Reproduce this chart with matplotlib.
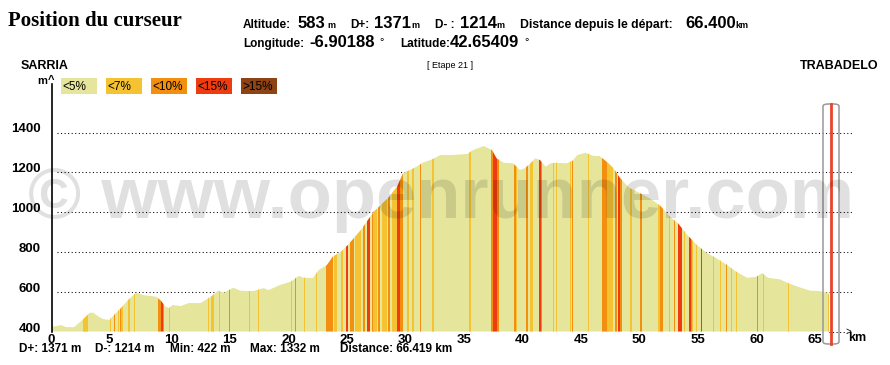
import matplotlib
matplotlib.use('Agg')
import matplotlib.pyplot as plt
from matplotlib.patches import Polygon, Rectangle, FancyBboxPatch
from matplotlib.transforms import ScaledTranslation

plt.rcParams['font.family'] = ['Liberation Sans', 'DejaVu Sans']

# elevation profile (km, m)
distance_km = [0.0, 0.8, 1.2, 1.9, 2.6, 3.2, 3.5, 4.0, 4.4, 4.9, 5.3, 5.9, 6.5, 7.2, 7.8,
               8.9, 9.3, 9.7, 10.0, 10.3, 11.0, 11.7, 12.7, 13.6, 14.2, 14.7, 15.5, 16.1,
               17.2, 18.1, 18.5, 19.5, 20.4, 21.1, 21.5, 22.3, 22.8, 23.5, 24.0, 24.7,
               25.3, 26.4, 27.5, 28.7, 29.5, 30.0, 30.9, 31.7, 32.5, 33.2, 34.2, 35.5,
               36.0, 36.9, 37.6, 38.0, 38.6, 39.4, 40.0, 40.4, 40.9, 41.3, 41.7, 42.2,
               42.6, 43.0, 44.0, 44.5, 44.9, 45.6, 46.3, 46.8, 47.4, 48.0, 48.5, 49.1,
               49.4, 50.3, 51.1, 52.0, 52.8, 53.5, 54.3, 55.1, 56.0, 56.8, 57.7, 58.5,
               59.4, 60.2, 60.7, 61.2, 62.2, 63.1, 63.9, 64.8, 65.6, 66.3, 66.419]
elevation_m = [424, 432, 422, 422, 458, 493, 495, 474, 462, 458, 483, 518, 558, 595, 583,
               575, 555, 525, 518, 533, 528, 543, 543, 575, 605, 595, 620, 605,
               603, 618, 608, 634, 650, 680, 670, 669, 709, 734, 776, 801,
               835, 910, 1002, 1069, 1128, 1195, 1220, 1248, 1265, 1287, 1287, 1292,
               1312, 1332, 1312, 1270, 1248, 1245, 1212, 1220, 1245, 1270, 1262, 1228,
               1245, 1248, 1245, 1258, 1287, 1298, 1282, 1282, 1253, 1220, 1175, 1136,
               1120, 1094, 1069, 1031, 977, 944, 885, 835, 793, 768, 734, 700,
               670, 675, 693, 670, 662, 639, 622, 605, 603, 595, 583]

# slope stripes: start km, end km, class (1: <7%, 2: <10%, 3: <15%)
stripe_start = [2.65, 4.95, 5.29, 5.63, 5.80, 5.93, 6.48, 7.00, 9.04, 9.30, 9.47, 9.98,
                13.31, 13.57, 14.25, 15.10, 16.81, 17.58, 20.39, 20.73, 21.50, 22.53,
                23.38, 24.06, 24.66, 25.09, 25.51, 25.94, 26.54, 26.96, 27.39, 27.47,
                27.90, 28.24, 28.75, 29.10, 29.52, 29.78, 30.38, 30.80, 31.48, 32.51,
                35.67, 37.54, 37.71, 38.05, 39.51, 39.68, 40.53, 40.87, 41.64, 41.81,
                42.83, 43.09, 44.28, 44.45, 45.82, 47.01, 47.44, 48.12, 48.38, 48.55,
                49.40, 50.26, 51.79, 51.96, 52.73, 53.16, 53.50, 54.01, 54.44, 54.61,
                54.69, 55.03, 55.46, 56.48, 57.08, 57.59, 58.02, 58.45, 60.24, 60.75,
                62.88, 66.30]
stripe_end = [3.07, 5.05, 5.38, 5.72, 5.93, 6.06, 6.66, 7.10, 9.30, 9.47, 9.56, 10.08,
              13.41, 13.82, 14.35, 15.20, 16.91, 17.68, 20.49, 20.83, 21.60, 22.63,
              23.98, 24.40, 24.83, 25.34, 25.77, 26.37, 26.79, 27.22, 27.50, 27.82,
              28.00, 28.67, 28.85, 29.52, 29.78, 30.03, 30.48, 30.90, 31.58, 32.61,
              35.77, 37.71, 38.05, 38.17, 39.68, 39.76, 40.70, 41.13, 41.81, 41.89,
              42.93, 43.19, 44.38, 44.54, 45.92, 47.44, 47.95, 48.29, 48.55, 48.72,
              49.57, 50.43, 51.96, 52.22, 52.83, 53.26, 53.84, 54.11, 54.61, 54.69,
              54.78, 55.13, 55.56, 56.58, 57.18, 57.69, 58.12, 58.55, 60.34, 60.85,
              62.98, 66.40]
stripe_class = [1, 1, 2, 1, 2, 1, 1, 1, 2, 3, 2, 1,
                1, 1, 1, 2, 1, 1, 1, 2, 1, 1,
                2, 1, 1, 3, 2, 1, 2, 3, 2, 1,
                2, 1, 2, 1, 3, 2, 1, 1, 2, 1,
                1, 2, 3, 2, 2, 1, 2, 1, 3, 2,
                1, 1, 1, 2, 1, 2, 1, 2, 3, 2,
                1, 2, 1, 2, 1, 2, 3, 1, 3, 2,
                1, 1, 3, 1, 1, 2, 1, 1, 2, 1,
                1, 1]

legend_labels = ['<5%', '<7%', '<10%', '<15%', '>15%']
slope_colors = ['#e5e59b', '#f5c232', '#f38f0f', '#ee3c10', '#8e4314']
y_ticks = [400, 600, 800, 1000, 1200, 1400]
x_ticks = list(range(0, 70, 5))

W, H = 890, 365


def px(x, y):
    return x / W, 1 - y / H


fig = plt.figure(figsize=(8.9, 3.65), dpi=100)
x0, x1 = 52, 852
ybot, ytop = 331.5, 84
scale = 11.7
ax = fig.add_axes([x0 / W, (H - ybot) / H, (x1 - x0) / W, (ybot - ytop) / H])
ax.set_xlim(0, (x1 - x0) / scale)
ax.set_ylim(400, 400 + (ybot - ytop) / 0.199)
for s in ['top', 'right', 'bottom']:
    ax.spines[s].set_visible(False)
ax.spines['left'].set_linewidth(1.2)

# dotted grid behind the profile
dots = (0, (1, 2.4))
ax.hlines(y_ticks[1:], 0.4, ax.get_xlim()[1], colors='black', linestyles=[dots],
          linewidth=0.75, zorder=1)
ax.hlines(400, distance_km[-1], ax.get_xlim()[1] - 0.4, colors='black',
          linestyles=[dots], linewidth=0.75, zorder=1, clip_on=False)
ax.text(ax.get_xlim()[1] - 0.3, 400, '>', fontsize=7, ha='center', va='center',
        clip_on=False)

# profile area, slope stripes clipped to it
verts = list(zip(distance_km, elevation_m)) + [(distance_km[-1], 400), (0, 400)]
area = Polygon(verts, closed=True, facecolor=slope_colors[0], edgecolor='none', zorder=2)
ax.add_patch(area)
for s, e, c in zip(stripe_start, stripe_end, stripe_class):
    sp = ax.axvspan(s, e, color=slope_colors[c], lw=0, zorder=3)
    sp.set_clip_path(area)

# ticks
ax.set_yticks(y_ticks)
ax.set_yticklabels([str(v) for v in y_ticks], fontsize=9.5, fontweight='bold')
ax.tick_params(axis='y', length=0, pad=8)
for lab in ax.get_yticklabels():
    lab.set_transform(lab.get_transform() + ScaledTranslation(0, 0.045, fig.dpi_scale_trans))
ax.set_xticks(x_ticks)
ax.set_xticklabels([str(v) for v in x_ticks], fontsize=9.5, fontweight='bold', ha='left')
ax.tick_params(axis='x', length=0, pad=1.5)
for lab in ax.get_xticklabels():
    lab.set_transform(lab.get_transform() + ScaledTranslation(-0.05, 0, fig.dpi_scale_trans))

# header
fig.text(*px(8, 26), 'Position du curseur', family='Liberation Serif', fontweight='bold',
         fontsize=15, va='baseline')
small = dict(fontsize=8.5, fontweight='bold', va='baseline')
big = dict(fontsize=12, fontweight='bold', va='baseline')
unit = dict(fontsize=6.5, fontweight='bold', va='baseline')
fig.text(*px(243, 28), 'Altitude:', **small)
fig.text(*px(298, 28), '583', **big)
fig.text(*px(327, 28), 'm', **unit)
fig.text(*px(350, 28), 'D+:', **small)
fig.text(*px(374, 28), '1371', **big)
fig.text(*px(411, 28), 'm', **unit)
fig.text(*px(435, 28), 'D- :', **small)
fig.text(*px(460, 28), '1214', **big)
fig.text(*px(496, 28), 'm', **unit)
fig.text(*px(520, 28), 'Distance depuis le départ:', fontsize=8.8, fontweight='bold',
         va='baseline')
fig.text(*px(685, 28), '66.400', **big)
fig.text(*px(735, 28), 'km', **unit)
fig.text(*px(243, 47), 'Longitude:', **small)
fig.text(*px(309, 47), '-6.90188', **big)
fig.text(*px(379, 45), '°', fontsize=8, va='baseline')
fig.text(*px(400, 47), 'Latitude:', **small)
fig.text(*px(450, 47), '42.65409', **big)
fig.text(*px(524, 45), '°', fontsize=8, va='baseline')

fig.text(*px(21, 66), 'SARRIA', fontsize=9, fontweight='bold', va='center')
fig.text(*px(878, 66), 'TRABADELO', fontsize=9, fontweight='bold', va='center', ha='right')
fig.text(*px(450, 66), '[ Etape 21 ]', fontsize=6.5, va='center', ha='center')
fig.text(*px(37, 81), 'm', fontsize=8, fontweight='bold', va='center')
fig.text(*px(51.5, 80), '^', fontsize=8, fontweight='bold', va='center', ha='center')

# slope legend
for i, (lab, col) in enumerate(zip(legend_labels, slope_colors)):
    left = 61 + i * 45
    fig.patches.append(Rectangle(px(left, 94), 36 / W, 16 / H, facecolor=col,
                                 edgecolor='none', transform=fig.transFigure))
    fig.text(*px(left + 1.5, 86.5), lab, fontsize=8.5, va='center')

# bottom summary
foot = dict(fontsize=8.5, fontweight='bold', va='center')
fig.text(*px(19, 349), 'D+: 1371 m', **foot)
fig.text(*px(95, 349), 'D-: 1214 m', **foot)
fig.text(*px(170, 349), 'Min: 422 m', **foot)
fig.text(*px(250, 349), 'Max: 1332 m', **foot)
fig.text(*px(340, 349), 'Distance: 66.419 km', **foot)
fig.text(*px(848, 338), 'km', fontsize=9, fontweight='bold', va='center')

# cursor
fig.patches.append(FancyBboxPatch(px(823, 344), 16 / W, 240 / H,
                                  boxstyle='round,pad=0,rounding_size=0.006',
                                  facecolor='none', edgecolor='#999999', lw=1.1,
                                  transform=fig.transFigure, zorder=5))
fig.lines.append(plt.Line2D([830.7 / W, 830.7 / W], [1 - 104 / H, 1 - 344 / H],
                            color='#e8432c', lw=2, transform=fig.transFigure, zorder=6))

# watermark
fig.text(*px(441, 218), '© www.openrunner.com', fontsize=52, fontweight='bold',
         color='#000000', alpha=0.12, ha='center', va='baseline', zorder=10)

fig.savefig('out.png', dpi=100)
plt.close(fig)
